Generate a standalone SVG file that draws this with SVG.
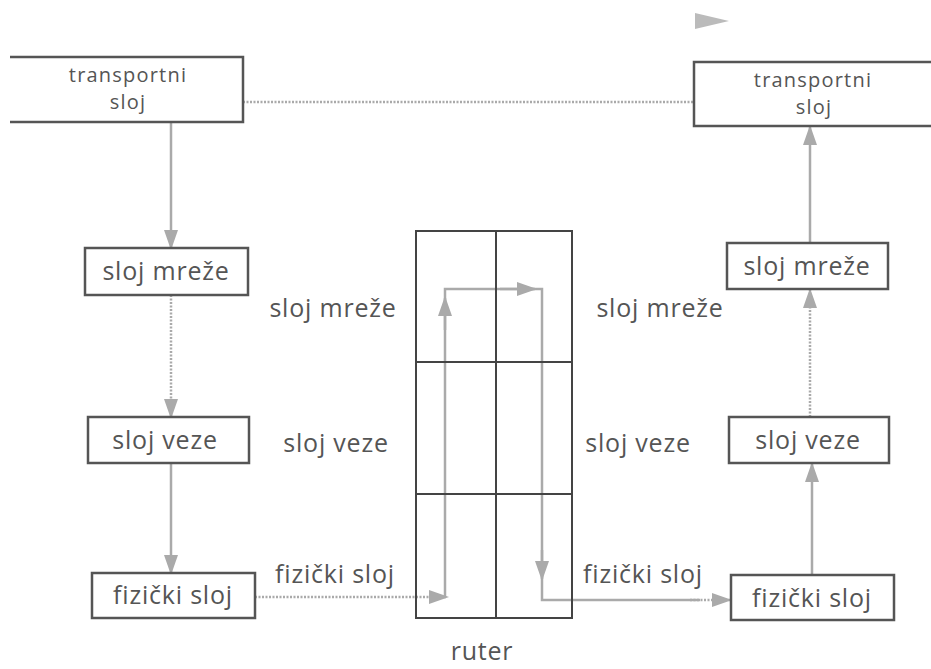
<svg xmlns="http://www.w3.org/2000/svg" width="931" height="669" viewBox="0 0 931 669">
<defs>
<style>
.box{fill:#fff;stroke:#555;stroke-width:2.5}
.t{font-family:"Open Sans","Noto Sans",sans-serif;font-size:25px;fill:#555;text-anchor:middle;letter-spacing:0.8px}
.ts{font-family:"Open Sans","Noto Sans",sans-serif;font-size:20px;fill:#555;text-anchor:middle;letter-spacing:1.2px}
.c{fill:none;stroke:#aaa;stroke-width:2.5}
.d{fill:none;stroke:#aaa;stroke-width:2.5;stroke-dasharray:2 1.5}
.r{fill:none;stroke:#444;stroke-width:2}
</style>
<marker id="a" viewBox="0 0 10 10" refX="9" refY="5" markerWidth="20" markerHeight="20" orient="auto" markerUnits="userSpaceOnUse">
<path d="M0,1.5 L10,5 L0,8.5 z" fill="#aaa"/>
</marker>
</defs>
<rect width="931" height="669" fill="#fff"/>
<polygon points="695,13 729,21 695,29" fill="#bbb"/>

<g id="connectors">
<line class="d" x1="243" y1="102" x2="694" y2="102"/>
<line class="c" x1="171" y1="122" x2="171" y2="248" marker-end="url(#a)"/>
<line class="d" x1="171" y1="295" x2="171" y2="417" marker-end="url(#a)"/>
<line class="c" x1="171" y1="463" x2="171" y2="573" marker-end="url(#a)"/>
<line class="d" x1="255" y1="597" x2="447" y2="597" marker-end="url(#a)"/>
<polyline class="c" points="445,597 445,289 542,289 542,600 700,600"/>
<line class="c" x1="445" y1="330" x2="445" y2="298" marker-end="url(#a)"/>
<line class="c" x1="500" y1="289" x2="535" y2="289" marker-end="url(#a)"/>
<line class="c" x1="542" y1="550" x2="542" y2="579" marker-end="url(#a)"/>
<line class="d" x1="690" y1="600" x2="730" y2="600" marker-end="url(#a)"/>
<line class="c" x1="812" y1="575" x2="812" y2="464" marker-end="url(#a)"/>
<line class="d" x1="810" y1="417" x2="810" y2="290" marker-end="url(#a)"/>
<line class="c" x1="810" y1="243" x2="810" y2="127" marker-end="url(#a)"/>
</g>

<g id="ruter">
<rect class="r" x="416" y="231" width="156" height="387"/>
<line class="r" x1="496" y1="231" x2="496" y2="618"/>
<line class="r" x1="416" y1="362" x2="572" y2="362"/>
<line class="r" x1="416" y1="494" x2="572" y2="494"/>
<text class="t" x="482" y="660">ruter</text>
</g>

<g id="transport-l">
<path class="box" d="M10,57 L243,57 L243,122 L10,122"/>
<text class="ts" x="128" y="82">transportni</text>
<text class="ts" x="128" y="109">sloj</text>
</g>
<g id="transport-r">
<path class="box" d="M931,62 L694,62 L694,126 L931,126"/>
<text class="ts" x="813" y="87">transportni</text>
<text class="ts" x="814" y="114">sloj</text>
</g>

<g id="mreza-l">
<rect class="box" x="85" y="248" width="163" height="47"/>
<text class="t" x="166" y="280">sloj mreže</text>
</g>
<g id="veza-l">
<rect class="box" x="88" y="417" width="161" height="46"/>
<text class="t" x="165" y="449">sloj veze</text>
</g>
<g id="fiz-l">
<rect class="box" x="92" y="573" width="163" height="45"/>
<text class="t" x="173" y="604">fizički sloj</text>
</g>

<g id="mreza-r">
<rect class="box" x="727" y="243" width="161" height="46"/>
<text class="t" x="807" y="275">sloj mreže</text>
</g>
<g id="veza-r">
<rect class="box" x="729" y="417" width="160" height="46"/>
<text class="t" x="808" y="449">sloj veze</text>
</g>
<g id="fiz-r">
<rect class="box" x="731" y="575" width="163" height="45"/>
<text class="t" x="812" y="607">fizički sloj</text>
</g>

<g id="labels">
<text class="t" x="333" y="317">sloj mreže</text>
<text class="t" x="660" y="317">sloj mreže</text>
<text class="t" x="336" y="452">sloj veze</text>
<text class="t" x="638" y="452">sloj veze</text>
<text class="t" x="335" y="583">fizički sloj</text>
<text class="t" x="643" y="583">fizički sloj</text>
</g>
</svg>
